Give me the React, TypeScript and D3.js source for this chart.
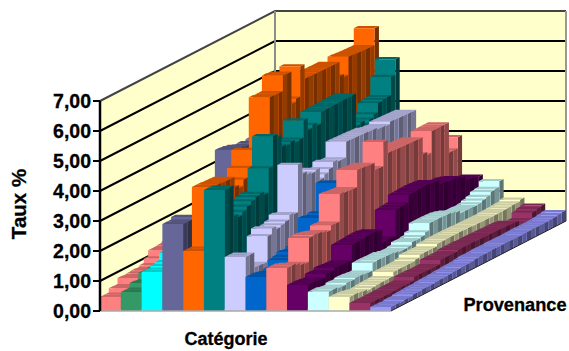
import React from "react";
import * as d3 from "d3";

// Rates per origin row (front to back) for each category column.
const rose1 = [.47,.47,.61,.6,.8,.78,.8,.82,.8,.85,1.0,1.2,1.2,1.22,1.25,1.2,1.22,1.2,1.25,1.2,1.22,1.25,1.2,1.25,1.3,1.25,1.2,1.25,1.3,1.25,1.2,1.2,1.25,1.3,1.25,1.2,1.25,1.3,1.25,1.2];
const green = [.63,.63,.78,.76,.97,.95,.98,.96,1,1,1.05,1.1,1.05,1.1,1.08,1.1,1.1,1.15,1.1,1.12,1.1,1.15,1.1,1.12,1.15,1.1,1.1,1.12,1.15,1.1,1.12,1.1,1.15,1.1,1.12,1.1,1.1,1.15,1.12,1.1];
const aqua = [1.3,1.3,1.35,1.4,1.63,1.65,1.7,1.65,1.7,1.75,1.7,1.8,1.75,1.7,1.75,1.8,1.7,1.75,1.8,1.7,1.75,1.7,1.8,1.75,1.7,1.75,1.8,1.75,1.7,1.75,1.7,1.8,1.75,1.7,1.75,1.8,1.7,1.75,1.7,1.75];
const slate = [2.9,2.9,2.98,2.85,2.8,2.75,2.6,3.3,3.4,3.35,3.4,3.3,4.47,4.45,4.42,4.35,4.3,4.32,4.25,4.3,4.27,4.2,4.25,4.2,4.15,4.2,4.25,4.2,4.15,4.2,4.18,4.2,4.15,4.1,4.2,4.15,4.1,4.15,4.1,4.2];
const orange = [2.0,2.0,3.98,3.98,3.97,3.96,3.95,3.6,3.5,3.7,4.02,4.54,4.3,4.2,4.3,6.0,5.98,5.98,6.5,6.48,5.4,5.5,6.5,6.02,6.01,6.0,6.0,5.99,5.99,5.98,5.98,5.5,5.4,6.0,5.98,5.97,5.96,5.95,5.94,6.5];
const teal = [4.03,4.03,3.0,2.9,3.0,3.1,3.2,3.27,3.3,3.2,4.0,5.0,4.9,4.5,4.45,4.5,4.4,4.43,5.0,4.6,4.7,4.6,4.98,4.98,4.99,4.99,5,5,5,5,3.9,3.95,3.8,3.9,4.0,4.3,4.33,4.35,4.95,5.47];
const lavender = [1.8,1.8,1.3,1.28,1.27,2.12,2.3,2.2,2.25,2.3,2.45,2.4,3.97,3.6,3.5,3.45,3.5,3.1,3.2,3.3,3.47,3.4,3.4,3.92,3.91,3.9,3.89,3.88,3.87,3.86,3.8,3.78,3.76,3.83,3.82,3.81,3.8,3.79,3.78,3.0];
const blue = [1.13,1.13,1.1,1.05,1.1,1.32,1.35,1.43,1.4,1.45,1.5,1.6,2.2,2.15,2.2,2.1,3.07,3.0,2.9,2.8,2.8,2.7,2.75,2.6,2.7,2.6,2.5,2.6,2.5,2.5,2.4,2.5,2.4,2.4,2.5,2.4,2.4,2.3,2.3,2.3];
const rose2 = [1.43,1.43,1.38,1.3,1.27,2.06,2.08,2.05,2.0,1.95,2.1,2.08,3.0,2.97,2.95,2.93,3.5,3.48,3.46,3.44,3.2,3.18,3.98,3.54,3.53,3.52,3.51,3.5,3.49,3.48,3.47,2.9,2.8,3.52,3.52,3.52,3.52,2.5,2.5,2.87];
const purple = [.87,.87,.85,.82,.93,.92,.98,.97,.95,.94,1.45,1.46,1.47,1.48,1.49,1.48,1.45,1.0,1.02,1.0,1.87,1.88,1.9,2.14,2.15,2.16,2.17,2.16,2.14,2.12,1.95,1.93,1.91,1.9,1.86,1.8,1.65,1.62,1.58,1.55];
const iceBlue = [.64,.64,.6,.58,.63,.62,.65,.64,.62,.6,.85,.86,.85,.84,.84,.8,.77,.76,.78,.87,.86,.88,.97,1.2,1.2,1.2,1.19,1.18,1.15,1.1,1.0,1.0,1.0,.98,1.0,1.05,1.1,1.19,1.22,1.4];
const cream = [.47,.47,.45,.42,.37,.38,.4,.41,.41,.42,.55,.55,.55,.55,.55,.58,.67,.67,.67,.66,.73,.73,.74,.74,.74,.74,.73,.73,.72,.72,.71,.71,.7,.7,.71,.71,.72,.73,.73,.78];
const maroon = [.27,.27,.26,.26,.26,.26,.27,.27,.27,.27,.38,.38,.38,.37,.37,.37,.5,.5,.5,.49,.53,.53,.53,.53,.52,.52,.52,.51,.51,.5,.49,.49,.48,.46,.3,.3,.32,.5,.55,.58];
const periwinkle = [.13,.13,.12,.14,.13,.17,.17,.18,.18,.18,.2,.21,.21,.22,.23,.23,.25,.25,.26,.28,.3,.29,.3,.31,.3,.3,.31,.3,.3,.29,.3,.3,.31,.3,.3,.3,.31,.32,.34,.37];

const columns = [rose1, green, aqua, slate, orange, teal, lavender, blue, rose2, purple, iceBlue, cream, maroon, periwinkle];
const colors = ["#FF8080", "#339966", "#00FFFF", "#666699", "#FF6600", "#008080", "#CCCCFF", "#0066CC", "#FF8080", "#660066", "#CCFFFF", "#FFFFCC", "#993366", "#9999FF"];
const tickValues = [0, 1, 2, 3, 4, 5, 6, 7];
const formatTick = (v: number) => v.toFixed(2).replace(".", ",");

const WIDTH = 569;
const HEIGHT = 351;
const rowCount = columns[0].length;

// Oblique projection: x runs along the front edge, depth shears up and right.
const xScale = d3.scaleLinear().domain([0, columns.length]).range([100, 391]);
const yScale = d3.scaleLinear().domain([0, 7]).range([311, 101]);
const depthX = d3.scaleLinear().domain([0, rowCount]).range([0, 175]);
const depthY = d3.scaleLinear().domain([0, rowCount]).range([0, -90]);

const project = (c: number, d: number, v: number): [number, number] => [
  xScale(c) + depthX(d),
  yScale(v) + depthY(d),
];
const pts = (list: [number, number][]) => list.map((p) => p.map((n) => n.toFixed(2)).join(",")).join(" ");
const path = (list: [number, number][]) => "M" + list.map((p) => p.join(",")).join("L");

const shade = (hex: string, k: number) => {
  const c = d3.rgb(hex);
  return d3.rgb(c.r * k, c.g * k, c.b * k).formatHex();
};

function Bar({ c, d, v, color }: { c: number; d: number; v: number; color: string }) {
  const sideShade = d % 2 === 0 ? 0.58 : 0.46;
  return (
    <g>
      <polygon
        points={pts([project(c + 1, d, 0), project(c + 1, d + 1, 0), project(c + 1, d + 1, v), project(c + 1, d, v)])}
        fill={shade(color, sideShade)}
      />
      <polygon
        points={pts([project(c, d, v), project(c + 1, d, v), project(c + 1, d + 1, v), project(c, d + 1, v)])}
        fill={shade(color, 0.8)}
      />
      <polygon
        points={pts([project(c, d, 0), project(c + 1, d, 0), project(c + 1, d, v), project(c, d, v)])}
        fill={color}
      />
    </g>
  );
}

export default function App() {
  const rows = d3.range(rowCount).reverse();
  const back = rowCount;
  const font = "'Liberation Sans', Arial, sans-serif";
  const ink = { fill: "#000", stroke: "#000", strokeWidth: 0.3 };
  return (
    <svg
      width={WIDTH}
      height={HEIGHT}
      viewBox={`0 0 ${WIDTH} ${HEIGHT}`}
      style={{ position: "absolute", left: 0, top: 0, background: "#fff" }}
      fontFamily={font}
      fontWeight="bold"
    >
      {/* Walls */}
      <polygon
        points={pts([project(0, 0, 0), project(0, back, 0), project(0, back, 7), project(0, 0, 7)])}
        fill="#FFFFCC"
      />
      <polygon
        points={pts([project(0, back, 0), project(columns.length, back, 0), project(columns.length, back, 7), project(0, back, 7)])}
        fill="#FFFFCC"
      />
      {/* Gridlines over both walls */}
      {tickValues.slice(1).map((t) => (
        <path
          key={t}
          d={path([project(0, 0, t), project(0, back, t), project(columns.length, back, t)])}
          fill="none"
          stroke={t === 7 ? "#444" : "#000"}
          strokeWidth={2}
        />
      ))}
      <path d={path([project(0, back, 0), project(0, back, 7)])} stroke="#8c8c8c" strokeWidth={2} fill="none" />
      <path
        d={path([project(columns.length, back, 7), project(columns.length, back, 0)])}
        stroke="#999"
        strokeWidth={2}
        fill="none"
      />

      {/* Bars, painted from the back row forward and left to right */}
      {rows.map((d) =>
        columns.map((col, c) => <Bar key={`${c}-${d}`} c={c} d={d} v={col[d]} color={colors[c]} />)
      )}

      {/* Floor edges */}
      <path d={path([project(0, 0, 0), project(columns.length, 0, 0)])} stroke="#aaa" strokeWidth={1.5} fill="none" />
      <path
        d={path([project(columns.length, 0, 0), project(columns.length, back, 0)])}
        stroke="#222"
        strokeWidth={1}
        fill="none"
      />

      {/* Value axis */}
      <path d={path([project(0, 0, 0), project(0, 0, 7)])} stroke="#000" strokeWidth={2.5} fill="none" />
      {tickValues.map((t) => (
        <g key={t}>
          <line x1={93} x2={100} y1={yScale(t)} y2={yScale(t)} stroke="#000" strokeWidth={2} />
          <text x={91} y={yScale(t) + 7} textAnchor="end" fontSize={19.5} {...ink}>
            {formatTick(t)}
          </text>
        </g>
      ))}

      <text transform="translate(26,204) rotate(-90)" textAnchor="middle" fontSize={20.5} {...ink}>
        Taux %
      </text>
      <text x={226} y={345} textAnchor="middle" fontSize={18} {...ink}>
        Catégorie
      </text>
      <text x={515} y={311} textAnchor="middle" fontSize={18.2} {...ink}>
        Provenance
      </text>
    </svg>
  );
}
